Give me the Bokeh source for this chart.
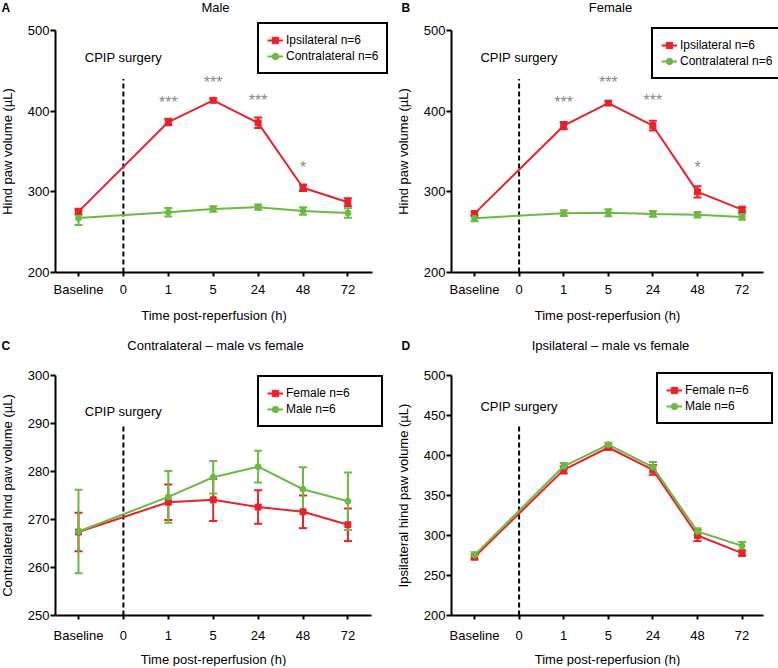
from bokeh.plotting import figure
from bokeh.models import (Range1d, ColumnDataSource, Whisker, TeeHead,
                          Legend, LegendItem, Label, FixedTicker)
from bokeh.layouts import column, row
from bokeh.core.properties import value
from bokeh.embed import file_html
from bokeh.resources import INLINE

# ---------------- data ----------------
categories = ["Baseline", "0", "1", "5", "24", "48", "72"]
time_points = ["Baseline", "1", "5", "24", "48", "72"]

male_ipsi = [275.5, 386.5, 413.5, 385.5, 305.0, 287.0]
male_ipsi_err = [3.5, 4.0, 2.5, 6.5, 4.0, 5.0]
male_contra = [267.5, 274.7, 278.8, 281.0, 276.3, 273.8]
male_contra_err = [8.7, 5.4, 3.4, 3.3, 4.6, 6.0]

female_ipsi = [273.0, 382.0, 410.0, 382.0, 300.0, 278.0]
female_ipsi_err = [3.0, 4.5, 2.5, 6.0, 7.0, 3.5]
female_contra = [267.4, 273.6, 274.1, 272.6, 271.6, 268.9]
female_contra_err = [4.0, 3.7, 4.4, 3.5, 3.4, 3.4]

star_times = ["1", "5", "24", "48"]
star_labels = ["***", "***", "***", "*"]
star_y = [411, 436, 413, 330]

surgery_time = "0"

RED = "#e8222a"
GREEN = "#6cb944"
FONT = "Liberation Sans"


def xpos(cat):
    return categories.index(cat)


def panel(title, letter, ylabel, yticks, series, legend_xy, label_width,
          dash_top, surg_y, stars, geom):
    W, H = geom["w"], geom["h"]
    bx, dx = geom["base_px"], geom["dx"]          # px of first category, spacing
    ax_px, axend_px = geom["yaxis_px"], geom["xend_px"]
    (ytop_v, ytop_px), (ybot_v, ybot_px) = geom["ytop"], geom["ybot"]
    ppu = (ybot_px - ytop_px) / (ytop_v - ybot_v)
    xr = Range1d((0 - bx) / dx, (W - bx) / dx)
    yr = Range1d(ybot_v - (H - ybot_px) / ppu, ytop_v + ytop_px / ppu)
    x_axis_start = (ax_px - bx) / dx
    x_axis_end = (axend_px - bx) / dx

    p = figure(width=W, height=H, x_range=xr, y_range=yr, output_backend="svg",
               toolbar_location=None, min_border=0, min_border_left=0,
               min_border_right=0, min_border_top=0, min_border_bottom=0)
    p.outline_line_color = None
    p.xgrid.grid_line_color = None
    p.ygrid.grid_line_color = None
    p.background_fill_color = "white"
    p.border_fill_color = "white"

    xa, ya = p.xaxis[0], p.yaxis[0]
    for ax in (xa, ya):
        ax.axis_line_width = 2
        ax.axis_line_color = "black"
        ax.major_tick_line_width = 2
        ax.major_tick_line_color = "black"
        ax.major_tick_in = 0
        ax.minor_tick_in = 0
        ax.minor_tick_out = 0
        ax.major_label_text_font = FONT
        ax.major_label_text_font_size = "13px"
        ax.major_label_text_color = "black"
        ax.axis_label_text_font = FONT
        ax.axis_label_text_font_size = "13px"
        ax.axis_label_text_font_style = "normal"
        ax.axis_label_text_color = "black"
    xa.fixed_location = ybot_v
    ya.fixed_location = x_axis_start
    xa.bounds = (x_axis_start, x_axis_end)
    ya.bounds = (ybot_v, ytop_v)
    xa.ticker = FixedTicker(ticks=list(range(len(categories))))
    xa.major_label_overrides = {i: c for i, c in enumerate(categories)}
    ya.ticker = FixedTicker(ticks=yticks)
    xa.major_tick_out = 4
    ya.major_tick_out = 5
    xa.major_label_standoff = geom["xtick_so"]
    ya.major_label_standoff = 1
    xa.axis_label = "Time post-reperfusion (h)"
    xa.axis_label_standoff = geom["xlab_so"]
    ya.axis_label = ylabel
    ya.axis_label_standoff = 10

    # surgery marker
    sx = xpos(surgery_time)
    p.segment(x0=[sx], y0=[ybot_v], x1=[sx], y1=[dash_top],
              line_color="black", line_width=2, line_dash="5 3")
    p.text(x=[sx], y=[surg_y], text=["CPIP surgery"],
           text_font=value(FONT), text_font_size="13px", text_color="black",
           text_align="center", text_baseline="middle")

    items = []
    for (lab, means, errs, color, marker) in series:
        src = ColumnDataSource(dict(x=[xpos(t) for t in time_points], y=means,
                                    upper=[m + e for m, e in zip(means, errs)],
                                    lower=[m - e for m, e in zip(means, errs)]))
        lr = p.line("x", "y", source=src, line_color=color, line_width=2)
        w = Whisker(base="x", upper="upper", lower="lower", source=src,
                    dimension="height", line_color=color, line_width=2,
                    upper_head=TeeHead(size=8, line_color=color, line_width=2),
                    lower_head=TeeHead(size=8, line_color=color, line_width=2))
        p.add_layout(w)
        sr = p.scatter("x", "y", source=src, marker=marker, size=6,
                       fill_color=color, line_color=color)
        items.append(LegendItem(label=lab, renderers=[lr, sr]))

    if stars:
        p.text(x=[xpos(t) for t in star_times], y=star_y, text=star_labels,
               text_font=value(FONT), text_font_size="16px", text_color="#8a8a8a",
               text_align="center", text_baseline="middle")

    leg = Legend(items=items, location=legend_xy, orientation="vertical",
                 border_line_color="black", border_line_width=2,
                 border_line_alpha=1.0,
                 background_fill_color="white", background_fill_alpha=1.0,
                 padding=8, spacing=0, margin=0, label_height=16, glyph_height=16,
                 glyph_width=16, label_standoff=3, label_width=label_width,
                 label_text_font=FONT, label_text_font_size="12px",
                 label_text_color="black")
    p.add_layout(leg)

    p.add_layout(Label(x=geom["title_x"], y=H - geom["title_y"], x_units="screen",
                       y_units="screen", text=title, text_font=FONT,
                       text_font_size="13px", text_align="center",
                       text_baseline="middle", text_color="black"))
    p.add_layout(Label(x=geom["letter_x"], y=H - geom["title_y"], x_units="screen",
                       y_units="screen", text=letter, text_font=FONT,
                       text_font_size="12px", text_font_style="bold",
                       text_align="left", text_baseline="middle", text_color="black"))
    return p


geomA = dict(w=389, h=330, base_px=78, dx=44.9, yaxis_px=55, xend_px=372,
             ytop=(500, 30), ybot=(200, 272), xtick_so=5, xlab_so=8,
             title_x=215, title_y=7, letter_x=1)
geomB = dict(w=389, h=330, base_px=85, dx=44.6, yaxis_px=62, xend_px=374,
             ytop=(500, 30), ybot=(200, 272), xtick_so=5, xlab_so=8,
             title_x=221, title_y=7, letter_x=12)
geomC = dict(w=389, h=336, base_px=78, dx=44.9, yaxis_px=55, xend_px=371,
             ytop=(300, 45), ybot=(250, 285), xtick_so=8, xlab_so=6,
             title_x=215, title_y=15, letter_x=1)
geomD = dict(w=389, h=336, base_px=85, dx=44.6, yaxis_px=62, xend_px=374,
             ytop=(500, 45), ybot=(200, 285), xtick_so=8, xlab_so=6,
             title_x=221, title_y=15, letter_x=12)

pA = panel("Male", "A", "Hind paw volume (\u00b5L)", [200, 300, 400, 500],
           [("Ipsilateral n=6", male_ipsi, male_ipsi_err, RED, "square"),
            ("Contralateral n=6", male_contra, male_contra_err, GREEN, "circle")],
           (257, 256), 90, 440, 466, True, geomA)

pB = panel("Female", "B", "Hind paw volume (\u00b5L)", [200, 300, 400, 500],
           [("Ipsilateral n=6", female_ipsi, female_ipsi_err, RED, "square"),
            ("Contralateral n=6", female_contra, female_contra_err, GREEN, "circle")],
           (262, 251), 90, 440, 466, True, geomB)

pC = panel("Contralateral \u2013 male vs female", "C",
           "Contralateral hind paw volume (\u00b5L)",
           [250, 260, 270, 280, 290, 300],
           [("Female n=6", female_contra, female_contra_err, RED, "square"),
            ("Male n=6", male_contra, male_contra_err, GREEN, "circle")],
           (257, 239), 87, 290, 292.5, False, geomC)

pD = panel("Ipsilateral \u2013 male vs female", "D",
           "Ipsilateral hind paw volume (\u00b5L)",
           [200, 250, 300, 350, 400, 450, 500],
           [("Female n=6", female_ipsi, female_ipsi_err, RED, "square"),
            ("Male n=6", male_ipsi, male_ipsi_err, GREEN, "circle")],
           (267, 242), 78, 440, 461.5, False, geomD)

layout = column(row(pA, pB), row(pC, pD))
open("out.html", "w").write(file_html(layout, INLINE))
